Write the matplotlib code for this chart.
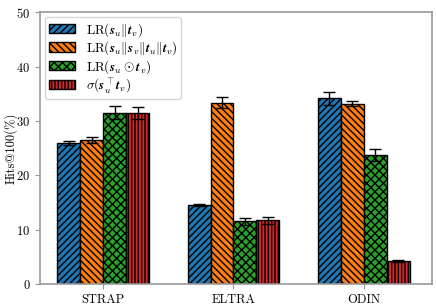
import numpy as np
import matplotlib
matplotlib.use("Agg")
import matplotlib.pyplot as plt

plt.rcParams["font.family"] = "serif"
plt.rcParams["font.serif"] = ["cmr10"]
plt.rcParams["mathtext.fontset"] = "cm"
plt.rcParams["axes.formatter.use_mathtext"] = True
plt.rcParams["hatch.linewidth"] = 1.0

# ==============================
# DATA
# ==============================

datasets = ["STRAP", "ELTRA", "ODIN"]
labels = [
    r"LR$(\mathbfit{s}_u\Vert\mathbfit{t}_v)$",
    r"LR$(\mathbfit{s}_u\Vert\mathbfit{s}_v\Vert\mathbfit{t}_u\Vert\mathbfit{t}_v)$",
    r"LR$(\mathbfit{s}_u\odot\mathbfit{t}_v)$",
    r"$\sigma(\mathbfit{s}_u^{\top}\mathbfit{t}_v)$",
]
concat2 = [26.0, 14.5, 34.2]
concat2_err = [0.4, 0.15, 1.2]
concat4 = [26.5, 33.4, 33.2]
concat4_err = [0.6, 1.0, 0.5]
hadamard = [31.5, 11.5, 23.8]
hadamard_err = [1.2, 0.6, 1.1]
dot = [31.5, 11.7, 4.3]
dot_err = [1.1, 0.6, 0.2]

colors = ["#1f77b4", "#ff7f0e", "#2ca02c", "#d62728"]
hatches = ["/////", "\\\\\\\\\\", "xxxx", "|||||"]

# ==============================
# PLOT
# ==============================

fig, ax = plt.subplots(figsize=(4.36, 3.08), dpi=100)
fig.subplots_adjust(left=0.092, right=0.99, top=0.96, bottom=0.078)

x = np.arange(len(datasets))
width = 0.176
series = [(concat2, concat2_err), (concat4, concat4_err), (hadamard, hadamard_err), (dot, dot_err)]
for i, (vals, errs) in enumerate(series):
    ax.bar(x + (i - 1.5) * width, vals, width, yerr=errs, capsize=4,
           color=colors[i], edgecolor="black", linewidth=1.0, hatch=hatches[i],
           label=labels[i], error_kw=dict(elinewidth=1.0, capthick=1.0))

ax.set_xticks(x)
ax.set_xticklabels(datasets, fontsize=9)
ax.set_xlim(-0.483, 2.52)
ax.set_ylim(0, 50)
ax.set_yticks([0, 10, 20, 30, 40, 50])
ax.tick_params(axis="y", labelsize=9, color="0.6")
ax.tick_params(axis="x", color="0.6")
ax.set_ylabel("Hits@100(%)", fontsize=9)
ax.yaxis.set_label_coords(-0.057, 0.5)
for sp in ax.spines.values():
    sp.set_color("0.6")
    sp.set_linewidth(1.2)

ax.legend(loc="upper left", fontsize=9.5, handlelength=2.0, labelspacing=0.05,
          borderpad=0.3, borderaxespad=0.35, framealpha=0.8)

plt.savefig("out.png", dpi=100)
